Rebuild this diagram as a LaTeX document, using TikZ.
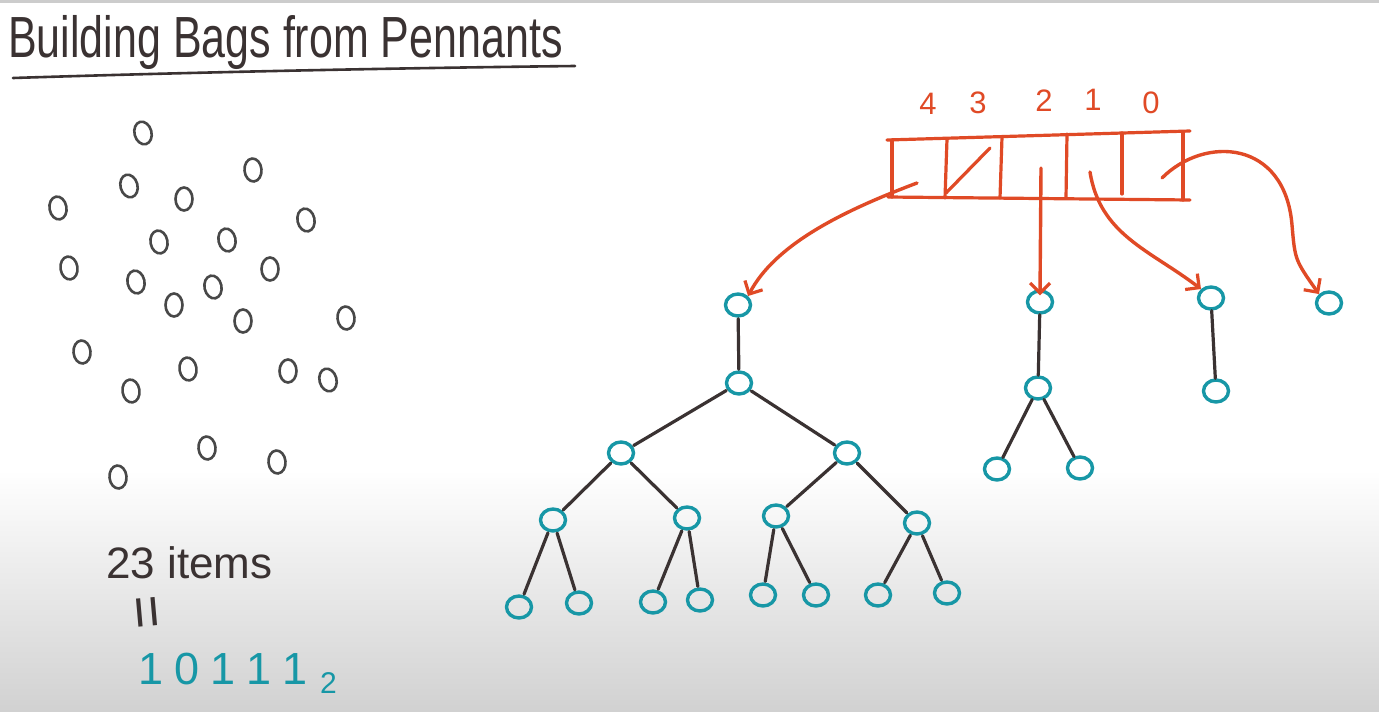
\documentclass[tikz,border=0pt]{standalone}
\usepackage{fontspec}
\setmainfont{Liberation Sans}
\usetikzlibrary{shapes.geometric,arrows.meta}
\definecolor{teal1}{HTML}{1797A6}
\definecolor{red1}{HTML}{E04A26}
\definecolor{ink}{HTML}{3A3232}
\definecolor{pencil}{HTML}{484848}
\tikzset{
  tn/.style={draw=teal1,ellipse,line width=3.4pt,minimum width=25pt,minimum height=22pt,inner sep=0pt},
  dot/.style={draw=pencil,ellipse,line width=2.6pt,minimum width=17pt,minimum height=23pt,inner sep=0pt},
  edge/.style={draw=ink,line width=3.2pt,line cap=round},
  ptr/.style={draw=red1,line width=3.4pt,line cap=round,-{Straight Barb[length=10pt,width=20pt,line width=3.2pt]}},
  arr/.style={draw=red1,line width=3.2pt,line cap=round,line join=round},
  lbl/.style={text=red1,font=\fontsize{31}{33}\selectfont,inner sep=0pt},
}
\begin{document}
\begin{tikzpicture}[x=1pt,y=-1pt]
\useasboundingbox (0,0) rectangle (1379,712);
\fill[white] (0,0) rectangle (1379,470);
\shade[top color=white,bottom color=black!18] (0,470) rectangle (1379,712);
\fill[black!20] (0,0) rectangle (1379,3);

% title
\node[anchor=base west,inner sep=0pt,text=ink,font=\fontsize{43}{50}\selectfont] (title) at (8,57) {\scalebox{1}[1.35]{Building Bags from Pennants}};
\draw[ink,line width=2.6pt,line cap=round] (13,78) .. controls (200,72) and (400,68) .. (575,66);

% scattered items
\foreach \i/\x/\y/\r in {1/143/133/15,2/253/170/5,3/129/186/15,4/184/199/0,5/58/208/10,6/306/220/12,7/159/242/10,8/227/240/12,9/69/268/8,10/270/269/0,11/136/282/12,12/213/287/12,13/174/305/0,14/243/321/0,15/346/318/5,16/82/352/5,17/188/369/8,18/288/371/0,19/328/380/15,20/131/391/8,21/207/448/5,22/277/462/5,23/118/477/5}
  \node[dot,rotate=\r] (s\i) at (\x,\y) {};

% texts
\node[anchor=base west,inner sep=0pt,text=ink,font=\fontsize{44}{50}\selectfont] (items) at (106,578) {23 items};
\node[inner sep=0pt,text=ink,font=\fontsize{58}{60}\selectfont,rotate=95] (eq) at (152,612) {=};
\node[anchor=base west,inner sep=0pt,text=teal1,font=\fontsize{45}{50}\selectfont] (bin) at (138,684) {1\hspace{11pt}0\hspace{11pt}1\hspace{11pt}1\hspace{11pt}1};
\node[anchor=base west,inner sep=0pt,text=teal1,font=\fontsize{30}{32}\selectfont] (sub) at (320,693) {2};

% array
\coordinate (tl) at (887,140);
\coordinate (tr) at (1190,131);
\coordinate (bl) at (888,197);
\coordinate (br) at (1190,200);
\draw[arr] (tl) -- (tr);
\draw[arr] (bl) -- (br);
\draw[arr] (892,140) -- (892,197);
\draw[arr] (947,139) -- (945,198);
\draw[arr] (1002,137) -- (1000,198);
\draw[arr] (1067,134) -- (1066,198);
\draw[arr] (1122,133) -- (1122,194);
\draw[arr] (1183,132) -- (1183,200);
\draw[arr] (990,148) -- (946,193);
\node[lbl] (l4) at (928,104) {4};
\node[lbl] (l3) at (978,103) {3};
\node[lbl] (l2) at (1044,101) {2};
\node[lbl] (l1) at (1093,100) {1};
\node[lbl] (l0) at (1151,103) {0};
\coordinate (c4) at (917,183);
\coordinate (c2) at (1041,168);
\coordinate (c1) at (1090,172);
\coordinate (c0) at (1162,178);

% big pennant (rank 4)
\node[tn] (r) at (738,305) {};
\node[tn] (a) at (739,383) {};
\node[tn] (b1) at (621,453) {};
\node[tn] (b2) at (847,453) {};
\node[tn] (c11) at (553,520) {};
\node[tn] (c12) at (687,518) {};
\node[tn] (c21) at (776,516) {};
\node[tn] (c22) at (917,523) {};
\node[tn] (d1) at (519,607) {};
\node[tn] (d2) at (579,603) {};
\node[tn] (d3) at (653,602) {};
\node[tn] (d4) at (700,600) {};
\node[tn] (d5) at (763,595) {};
\node[tn] (d6) at (816,595) {};
\node[tn] (d7) at (878,595) {};
\node[tn] (d8) at (947,593) {};
\foreach \u/\v in {r/a,a/b1,a/b2,b1/c11,b1/c12,b2/c21,b2/c22,c11/d1,c11/d2,c12/d3,c12/d4,c21/d5,c21/d6,c22/d7,c22/d8}
  \draw[edge,shorten <=1pt,shorten >=1pt] (\u) -- (\v);

% pennant rank 2
\node[tn] (p1) at (1040,302) {};
\node[tn] (p2) at (1038,388) {};
\node[tn] (p3) at (997,469) {};
\node[tn] (p4) at (1080,468) {};
\draw[edge] (p1) -- (p2);
\draw[edge] (p2) -- (p3);
\draw[edge] (p2) -- (p4);

% pennant rank 1
\node[tn] (q1) at (1211,298) {};
\node[tn] (q2) at (1216,391) {};
\draw[edge] (q1) -- (q2);

% pennant rank 0
\node[tn] (z1) at (1329,303) {};

% pointers
\draw[ptr] (c4) .. controls (840,212) and (775,245) .. (r.north east);
\draw[ptr] (c2) -- ([yshift=-6pt]p1.north);
\draw[ptr] (c1) .. controls (1100,235) and (1150,250) .. (q1.north west);
\draw[ptr] (c0) .. controls (1205,135) and (1285,140) .. (1292,225) .. controls (1295,260) .. (z1.north west);
\end{tikzpicture}
\end{document}
